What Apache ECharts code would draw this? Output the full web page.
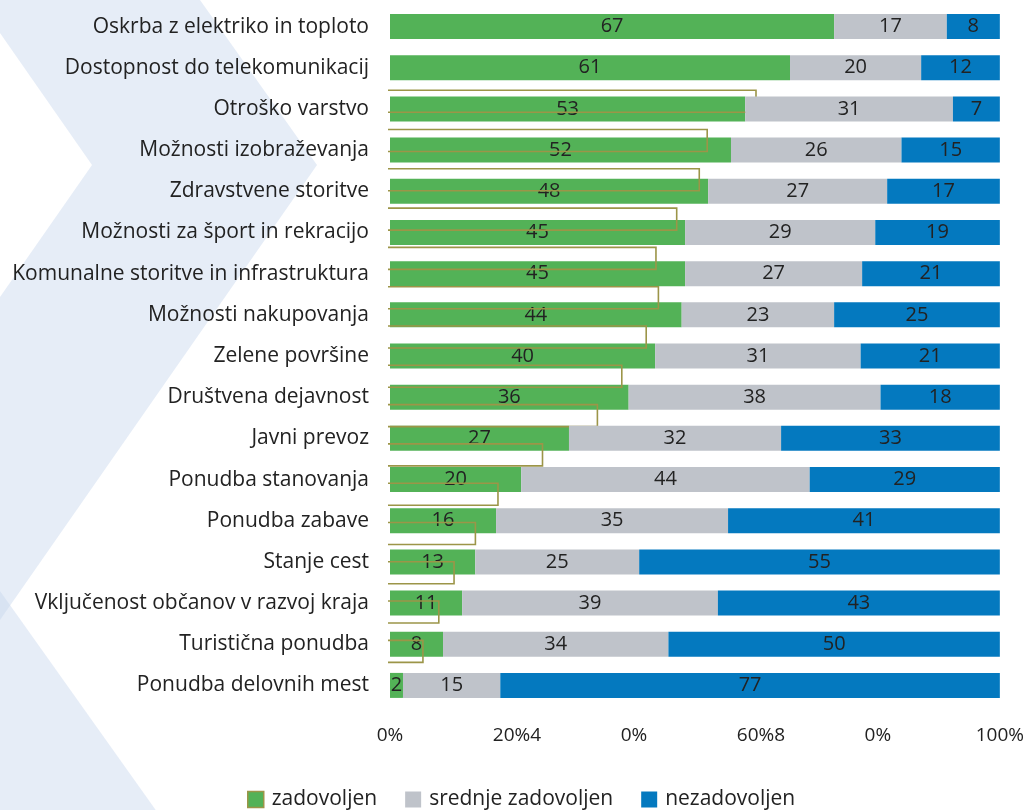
<!DOCTYPE html>
<html><head><meta charset="utf-8">
<script src="https://cdn.jsdelivr.net/npm/echarts@6/dist/echarts.min.js"></script>
<style>html,body{margin:0;padding:0;background:#fff}#c{width:1027px;height:810px}</style>
</head><body><div id="c"></div>
<script>
const categories = ["Oskrba z elektriko in toploto","Dostopnost do telekomunikacij","Otroško varstvo","Možnosti izobraževanja","Zdravstvene storitve","Možnosti za šport in rekracijo","Komunalne storitve in infrastruktura","Možnosti nakupovanja","Zelene površine","Društvena dejavnost","Javni prevoz","Ponudba stanovanja","Ponudba zabave","Stanje cest","Vključenost občanov v razvoj kraja","Turistična ponudba","Ponudba delovnih mest"];
const zadovoljen = [67,61,53,52,48,45,45,44,40,36,27,20,16,13,11,8,2];
const srednje = [17,20,31,26,27,29,27,23,31,38,32,44,35,25,39,34,15];
const nezadovoljen = [8,12,7,15,17,19,21,25,21,18,33,29,41,55,43,50,77];
// olive outline rectangles (misaligned overlay in the original)
const obrisi = [null,null,60,52,50.7,47,43.6,44,42,38,34,25,17.7,14,10.5,8,5.4];
const tickValues = [0,20,40,60,80,100];
const tickLabels = ["0%","20%4","0%","60%8","0%","100%"];
const seriesNames = ["zadovoljen","srednje zadovoljen","nezadovoljen"];

const FONT = "Open Sans";
const totals = categories.map((c,i)=>zadovoljen[i]+srednje[i]+nezadovoljen[i]);
const norm = arr => arr.map((v,i)=>v/totals[i]*100);
const raws = [zadovoljen, srednje, nezadovoljen];
const colors = ["#53b257","#bfc3ca","#0479bf"];

const chart = echarts.init(document.getElementById('c'), null, {renderer:'canvas'});
const mkBar = (k, z) => ({
  name: seriesNames[k], type:'bar', stack:'s', xAxisIndex:0, yAxisIndex:0,
  barWidth:25, z:z,
  data: norm(raws[k]),
  itemStyle:{color:colors[k]},
  label:{show:true, position:'inside', color:'#222', fontSize:20, fontFamily:FONT,
    formatter: p => String(raws[k][p.dataIndex])}
});
const option = {
  animation:false,
  textStyle:{fontFamily:FONT},
  graphic:[
    {type:'polygon', z:-10, silent:true,
     shape:{points:[[0,0],[200,0],[317,165],[0,620],[0,297],[92,165],[0,33]]},
     style:{fill:'rgba(200,215,238,0.45)'}},
    {type:'polygon', z:-10, silent:true,
     shape:{points:[[0,591],[160,816],[0,816]]},
     style:{fill:'rgba(200,215,238,0.45)'}}
  ],
  grid:[
    {left:390, right:27, top:6, height:700},
    {left:390, right:27, top:3, height:668}
  ],
  xAxis:[
    {type:'value', gridIndex:0, min:0, max:100, interval:20,
     axisLine:{show:false}, axisTick:{show:false}, splitLine:{show:false},
     axisLabel:{margin:20, color:'#222', fontSize:19, fontFamily:FONT,
       rich:{s:{fontSize:19, color:'#222', fontFamily:FONT, padding:[0,0,0,10]}},
       formatter: v => { const i = tickValues.indexOf(v); if (i<0) return '';
         const t = tickLabels[i]; return t.length===4 && t.indexOf('%')===2 ? '{s|'+t+'}' : t; }}},
    {type:'value', gridIndex:1, min:0, max:100, show:false}
  ],
  yAxis:[
    {type:'category', gridIndex:0, data:categories, inverse:true,
     axisLine:{show:false}, axisTick:{show:false},
     axisLabel:{margin:21, color:'#222', fontSize:21, fontFamily:FONT}},
    {type:'category', gridIndex:1, data:categories, inverse:true, show:false}
  ],
  legend:{
    left:242, top:784, itemWidth:16, itemHeight:16, itemGap:28,
    icon:'rect',
    textStyle:{fontSize:21, color:'#222', fontFamily:FONT, padding:[0,0,0,3]},
    data:[
      {name:seriesNames[0], itemStyle:{color:colors[0], borderColor:'#9c9548', borderWidth:1.5}},
      {name:seriesNames[1]},
      {name:seriesNames[2]}
    ]
  },
  series:[
    mkBar(0,1),
    {
      type:'custom', xAxisIndex:1, yAxisIndex:1, z:2, silent:true,
      data: obrisi.map((v,i)=>[v,i]),
      renderItem:(params, api) => {
        const v = api.value(0);
        if (v == null || isNaN(v)) return null;
        const i = api.value(1);
        const p0 = api.coord([0,i]);
        const p1 = api.coord([v,i]);
        const h = 11;
        return {type:'polyline', shape:{points:[[p0[0]-2,p0[1]-h],[p1[0],p0[1]-h],[p1[0],p0[1]+h],[p0[0]-2,p0[1]+h]]},
          style:{stroke:'#9c9548', lineWidth:1.6, fill:null}};
      }
    },
    mkBar(1,3),
    mkBar(2,3)
  ]
};
chart.setOption(option);
</script></body></html>
